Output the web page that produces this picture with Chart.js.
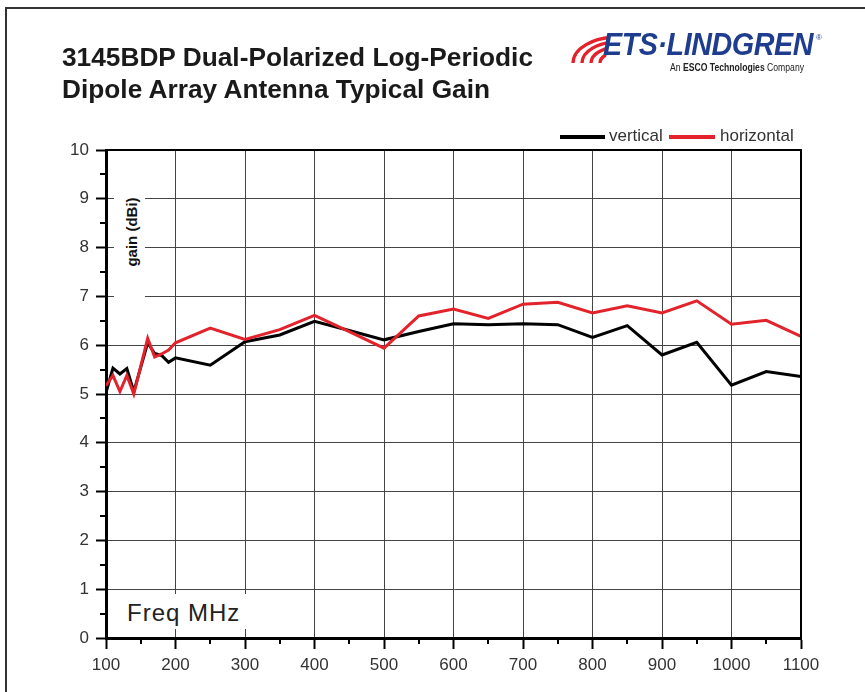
<!DOCTYPE html>
<html>
<head>
<meta charset="utf-8">
<script src="https://cdn.jsdelivr.net/npm/chart.js@4"></script>
<style>
  html, body { margin: 0; padding: 0; background: #fff; }
  body { width: 865px; height: 692px; position: relative; overflow: hidden; font-family: "Liberation Sans", Arial, sans-serif; }
  #frame { position: absolute; left: 5px; top: 7px; width: 870px; height: 700px; border-left: 2px solid #333; border-top: 2px solid #333; }
  #chart { position: absolute; left: 0; top: 0; }
  .title { position: absolute; left: 62px; font-weight: bold; font-size: 26px; color: #1a1a1a; white-space: nowrap; transform-origin: 0 0; }
  .logo { position: absolute; left: 603px; top: 27px; font-weight: bold; font-style: italic; font-size: 31px; color: #1f3d8f; white-space: nowrap; transform-origin: 0 0; letter-spacing: -0.5px; }
  .reg { position: absolute; left: 816px; top: 33px; font-size: 8px; color: #1f3d8f; }
  .sub { position: absolute; left: 670px; top: 61px; font-size: 11px; color: #222; white-space: nowrap; transform-origin: 0 0; }
  .leg-line { position: absolute; height: 4px; top: 135px; }
  .leg-text { position: absolute; top: 126px; font-size: 17px; color: #333; white-space: nowrap; }
  #gainBox { position: absolute; left: 114px; top: 158px; width: 31px; height: 142px; background: #fff; }
  #gain { position: absolute; left: 131px; top: 232px; font-weight: bold; font-size: 15px; color: #111; white-space: nowrap; transform: translate(-50%, -50%) rotate(-90deg); }
  #freqBox { position: absolute; left: 118px; top: 594px; width: 132px; height: 35px; background: #fff; }
  #freq { position: absolute; left: 127px; top: 599px; font-size: 24px; color: #222; letter-spacing: 1px; white-space: nowrap; }
</style>
</head>
<body>
<div id="frame"></div>
<canvas id="chart" width="865" height="692"></canvas>

<div class="title" id="t1" style="top:42px" data-w="471">3145BDP Dual-Polarized Log-Periodic</div>
<div class="title" id="t2" style="top:74px" data-w="428">Dipole Array Antenna Typical Gain</div>

<svg style="position:absolute;left:570px;top:33px" width="44" height="30">
  <defs>
    <clipPath id="cut"><polygon points="0,0 41,0 35,30 0,30" /></clipPath>
  </defs>
  <g fill="none" stroke="#e3232c" stroke-width="3.4" clip-path="url(#cut)">
    <path d="M3 30 A 45 26 0 0 1 48 4" />
    <path d="M12 30 A 36 21 0 0 1 48 9" />
    <path d="M21 30 A 27 16 0 0 1 48 14" />
    <path d="M30 30 A 18 11 0 0 1 48 19" />
    <path d="M38 30 A 10 6 0 0 1 48 24" />
  </g>
</svg>
<div class="logo" id="logo" data-w="210">ETS·LINDGREN</div>
<div class="reg">®</div>
<div class="sub" id="sub" data-w="134">An <b>ESCO Technologies</b> Company</div>

<div class="leg-line" style="left:560px;width:45px;background:#000"></div>
<div class="leg-text" style="left:609px">vertical</div>
<div class="leg-line" style="left:669px;width:46px;background:#e3232c"></div>
<div class="leg-text" style="left:720px">horizontal</div>

<div id="gainBox"></div>
<div id="gain">gain (dBi)</div>
<div id="freqBox"></div>
<div id="freq">Freq MHz</div>

<script>
// frequency in MHz
const freqs = [100, 110, 120, 130, 140, 160, 170, 180, 190, 200, 250, 300, 350, 400, 450, 500,
  550, 600, 650, 700, 750, 800, 850, 900, 950, 1000, 1050, 1100];
// gain (dBi)
const vertical = [5.03, 5.53, 5.41, 5.52, 5.05, 6.05, 5.83, 5.79, 5.65, 5.74, 5.59, 6.07, 6.21, 6.49, 6.30, 6.11,
  6.28, 6.44, 6.42, 6.44, 6.42, 6.16, 6.40, 5.80, 6.06, 5.18, 5.46, 5.36];
const horizontal = [5.17, 5.38, 5.05, 5.38, 5.00, 6.14, 5.76, 5.82, 5.90, 6.05, 6.35, 6.12, 6.32, 6.61, 6.28, 5.94,
  6.60, 6.74, 6.55, 6.84, 6.88, 6.66, 6.81, 6.66, 6.91, 6.43, 6.51, 6.18];

const xTicks = [100, 200, 300, 400, 500, 600, 700, 800, 900, 1000, 1100];
const yTicks = [0, 1, 2, 3, 4, 5, 6, 7, 8, 9, 10];

// squeeze text blocks to the width they have in the picture
document.querySelectorAll('[data-w]').forEach(el => {
  const w = el.getBoundingClientRect().width;
  el.style.transform = 'scaleX(' + (parseFloat(el.dataset.w) / w) + ')';
});

function pts(ys) {
  return freqs.map((f, i) => ({ x: f, y: ys[i] }));
}

// minor ticks + top/right edges of the plot box
const extras = {
  id: 'extras',
  afterDraw(chart) {
    const ctx = chart.ctx;
    const a = chart.chartArea;
    const xs = chart.scales.x, ys = chart.scales.y;
    ctx.save();
    ctx.strokeStyle = '#000';
    ctx.lineWidth = 2;
    for (let v = 0.5; v < 10; v += 1) {
      const y = Math.round(ys.getPixelForValue(v));
      ctx.beginPath(); ctx.moveTo(a.left - 6, y); ctx.lineTo(a.left, y); ctx.stroke();
    }
    for (let v = 150; v < 1100; v += 100) {
      const x = Math.round(xs.getPixelForValue(v));
      ctx.beginPath(); ctx.moveTo(x, a.bottom); ctx.lineTo(x, a.bottom + 6); ctx.stroke();
    }
    ctx.beginPath();
    ctx.moveTo(a.left, a.top); ctx.lineTo(a.right, a.top); ctx.lineTo(a.right, a.bottom);
    ctx.stroke();
    ctx.restore();
  }
};

new Chart(document.getElementById('chart'), {
  type: 'line',
  data: {
    datasets: [
      {
        label: 'horizontal',
        data: pts(horizontal),
        borderColor: '#e3232c',
        borderWidth: 3,
        pointRadius: 0,
        tension: 0,
        order: 0
      },
      {
        label: 'vertical',
        data: pts(vertical),
        borderColor: '#000',
        borderWidth: 3,
        pointRadius: 0,
        tension: 0,
        order: 1
      }
    ]
  },
  options: {
    responsive: false,
    animation: false,
    layout: { padding: { left: 0, right: 64, top: 150, bottom: 0 } },
    plugins: { legend: { display: false }, tooltip: { enabled: false } },
    scales: {
      x: {
        type: 'linear',
        min: 100,
        max: 1100,
        afterBuildTicks: s => { s.ticks = xTicks.map(v => ({ value: v })); },
        afterFit: s => { s.height = 54; },
        ticks: { color: '#333', font: { size: 17, family: 'Liberation Sans' }, padding: 6, callback: v => String(v) },
        grid: { color: '#444', lineWidth: 1, tickLength: 11, tickColor: '#000', tickWidth: 2 },
        border: { color: '#000', width: 3 }
      },
      y: {
        min: 0,
        max: 10,
        afterBuildTicks: s => { s.ticks = yTicks.map(v => ({ value: v })); },
        afterFit: s => { s.width = 106; },
        ticks: { color: '#333', font: { size: 17, family: 'Liberation Sans' }, padding: 7, callback: v => String(v) },
        grid: { color: '#444', lineWidth: 1, tickLength: 10, tickColor: '#000', tickWidth: 2 },
        border: { color: '#000', width: 3 }
      }
    }
  },
  plugins: [extras]
});
</script>
</body>
</html>
